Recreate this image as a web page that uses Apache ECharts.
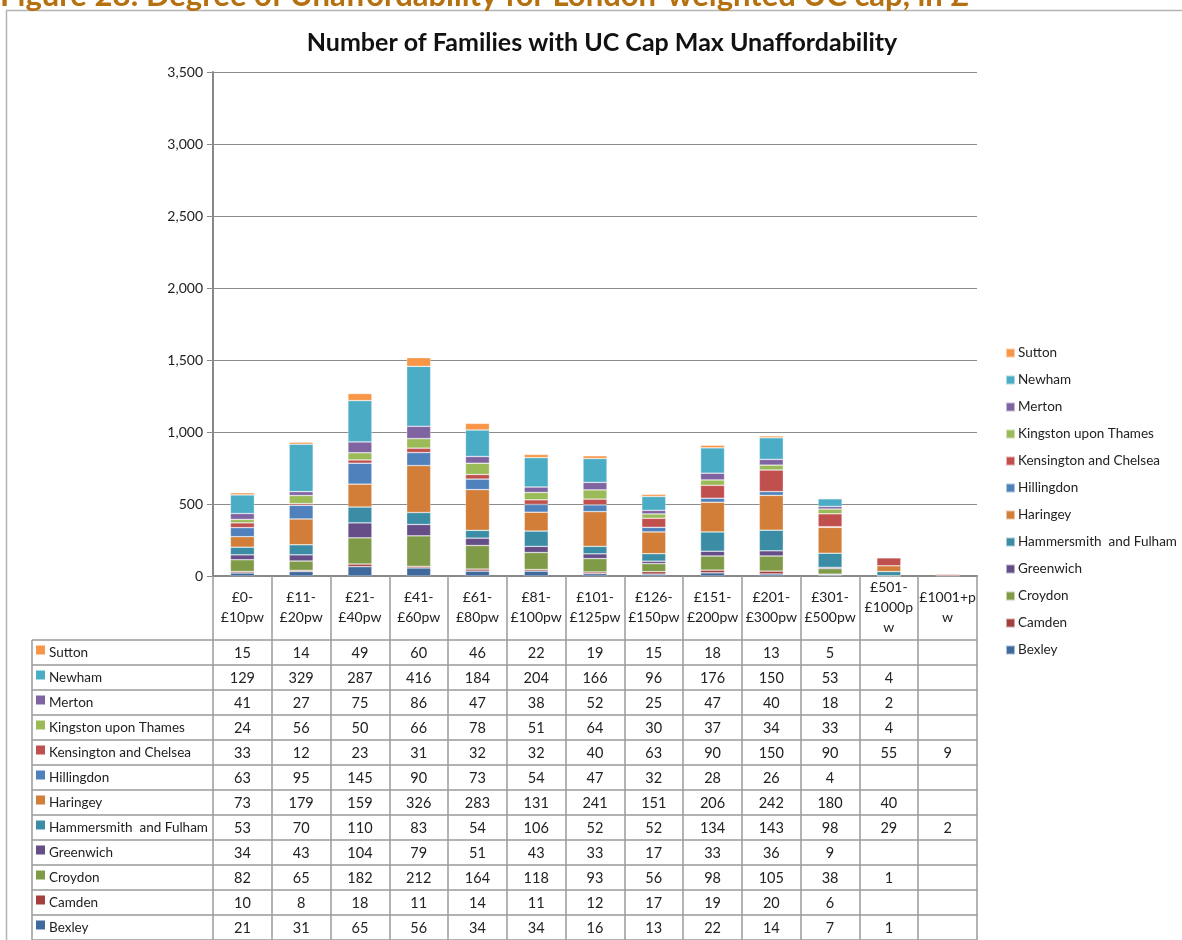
<!DOCTYPE html>
<html>
<head>
<meta charset="utf-8">
<script src="https://cdn.jsdelivr.net/npm/echarts@6/dist/echarts.min.js"></script>
<style>
  html, body { margin: 0; padding: 0; background: #fff; }
  #main { width: 1182px; height: 940px; }
</style>
</head>
<body>
<div id="main"></div>
<script>
// categories (header row of the data table)
var bands = ['£0-\n£10pw', '£11-\n£20pw', '£21-\n£40pw', '£41-\n£60pw', '£61-\n£80pw', '£81-\n£100pw',
             '£101-\n£125pw', '£126-\n£150pw', '£151-\n£200pw', '£201-\n£300pw', '£301-\n£500pw',
             '£501-\n£1000p\nw', '£1001+p\nw'];

// boroughs, bottom of the stack first
var boroughs = ['Bexley', 'Camden', 'Croydon', 'Greenwich', 'Hammersmith  and Fulham', 'Haringey',
                'Hillingdon', 'Kensington and Chelsea', 'Kingston upon Thames', 'Merton', 'Newham', 'Sutton'];

var bexley      = [21, 31, 65, 56, 34, 34, 16, 13, 22, 14, 7, 1, null];
var camden      = [10, 8, 18, 11, 14, 11, 12, 17, 19, 20, 6, null, null];
var croydon     = [82, 65, 182, 212, 164, 118, 93, 56, 98, 105, 38, 1, null];
var greenwich   = [34, 43, 104, 79, 51, 43, 33, 17, 33, 36, 9, null, null];
var hammersmith = [53, 70, 110, 83, 54, 106, 52, 52, 134, 143, 98, 29, 2];
var haringey    = [73, 179, 159, 326, 283, 131, 241, 151, 206, 242, 180, 40, null];
var hillingdon  = [63, 95, 145, 90, 73, 54, 47, 32, 28, 26, 4, null, null];
var kensington  = [33, 12, 23, 31, 32, 32, 40, 63, 90, 150, 90, 55, 9];
var kingston    = [24, 56, 50, 66, 78, 51, 64, 30, 37, 34, 33, 4, null];
var merton      = [41, 27, 75, 86, 47, 38, 52, 25, 47, 40, 18, 2, null];
var newham      = [129, 329, 287, 416, 184, 204, 166, 96, 176, 150, 53, 4, null];
var sutton      = [15, 14, 49, 60, 46, 22, 19, 15, 18, 13, 5, null, null];

var values = [bexley, camden, croydon, greenwich, hammersmith, haringey,
              hillingdon, kensington, kingston, merton, newham, sutton];

var colors = ['#3E6A9E', '#A3403D', '#7F9B48', '#654E87', '#3A8DA4', '#D27D38',
              '#4F81BD', '#C0504D', '#9BBB59', '#8064A2', '#4BACC6', '#F79646'];

var yTicks = [0, 500, 1000, 1500, 2000, 2500, 3000, 3500];

var FONT = 'Lato, "Liberation Sans", sans-serif';
var lineCol = '#9a9a9a';

var myChart = echarts.init(document.getElementById('main'));

var series = [];
for (var i = 0; i < boroughs.length; i++) {
    series.push({
        name: boroughs[i],
        type: 'bar',
        stack: 'all',
        barWidth: 24,
        data: values[i],
        itemStyle: { color: colors[i], borderColor: 'rgba(255,255,255,0.55)', borderWidth: 0.6 }
    });
}

var option = {
    animation: false,
    textStyle: { fontFamily: FONT },
    title: {
        text: 'Number of Families with UC Cap Max Unaffordability',
        left: 597, top: 25, textAlign: 'center',
        textStyle: { fontFamily: FONT, fontSize: 25, fontWeight: 'bold', color: '#111' }
    },
    legend: {
        orient: 'vertical',
        left: 1000, top: 341,
        icon: 'rect', itemWidth: 9, itemHeight: 9, itemGap: 13,
        data: boroughs.slice().reverse(),
        textStyle: { fontFamily: FONT, fontSize: 13.5, color: '#222', padding: [0, 0, 0, -2] }
    },
    grid: { left: 213, right: 205, top: 72, bottom: 364 },
    xAxis: {
        type: 'category',
        data: bands,
        axisLine: { lineStyle: { color: '#888', width: 2 } },
        axisTick: { show: true, length: 364, lineStyle: { color: lineCol, width: 1.5 } },
        axisLabel: {
            interval: 0, margin: 31, verticalAlign: 'middle', lineHeight: 20,
            fontFamily: FONT, fontSize: 14, color: '#222'
        },
        splitLine: { show: false }
    },
    yAxis: {
        type: 'value',
        min: yTicks[0], max: yTicks[yTicks.length - 1], interval: 500,
        axisLine: { show: true, lineStyle: { color: '#888', width: 2 } },
        axisTick: { show: true, length: 6, lineStyle: { color: '#888' } },
        axisLabel: {
            margin: 10, fontFamily: FONT, fontSize: 14, color: '#222',
            formatter: function (v) { return v.toLocaleString('en-GB'); }
        },
        splitLine: { lineStyle: { color: '#8c8c8c', width: 1.2 } }
    },
    series: series
};

myChart.setOption(option);

// data table under the axis, laid out on the category axis positions
var rowTop = 640, rowH = 25, tableLeft = 32, tableRight = 977;
var g = [];
g.push({ type: 'rect', silent: true, shape: { x: 6.5, y: 10.5, width: 1200, height: 1000 },
         style: { fill: null, stroke: '#b4b4b4', lineWidth: 1.5 } });
g.push({ type: 'text', silent: true, x: 0, y: 11,
         style: { text: 'Figure 28: Degree of Unaffordability for London-weighted UC cap, in £',
                  font: 'bold 31px ' + FONT, fill: '#B5700F', verticalAlign: 'bottom' } });
var order = boroughs.slice().reverse();
var orderVals = values.slice().reverse();
var orderCols = colors.slice().reverse();
for (var r = 0; r <= order.length; r++) {
    var y = rowTop + r * rowH;
    g.push({ type: 'line', silent: true, shape: { x1: tableLeft, y1: y, x2: tableRight, y2: y },
             style: { stroke: lineCol, lineWidth: 1.5 } });
}
g.push({ type: 'line', silent: true, shape: { x1: tableLeft, y1: rowTop, x2: tableLeft, y2: 940 },
         style: { stroke: lineCol, lineWidth: 1.5 } });
for (var r = 0; r < order.length; r++) {
    var cy = rowTop + r * rowH + rowH / 2;
    g.push({ type: 'rect', silent: true, shape: { x: 36, y: cy - 7, width: 9, height: 9 },
             style: { fill: orderCols[r] } });
    g.push({ type: 'text', silent: true, x: 49, y: cy,
             style: { text: order[r], font: '13.5px ' + FONT, fill: '#222', verticalAlign: 'middle' } });
    for (var c = 0; c < bands.length; c++) {
        var v = orderVals[r][c];
        if (v == null) continue;
        var cx = myChart.convertToPixel({ xAxisIndex: 0 }, c);
        g.push({ type: 'text', silent: true, x: cx, y: cy + 1,
                 style: { text: String(v), font: '14.5px ' + FONT, fill: '#222', align: 'center', verticalAlign: 'middle' } });
    }
}
myChart.setOption({ graphic: g });
</script>
</body>
</html>
